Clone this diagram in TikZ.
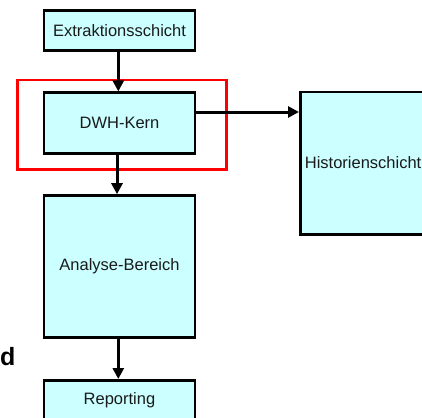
\documentclass[tikz,border=0pt]{standalone}
\usepackage{fontspec}
\setmainfont{Liberation Sans}
\usetikzlibrary{arrows.meta}
\definecolor{boxfill}{HTML}{CCFFFF}
\definecolor{boxtext}{HTML}{1A1A1A}
\begin{document}
\begin{tikzpicture}[x=1pt,y=-1pt,
  layer/.style={draw=black, line width=2.6pt, fill=boxfill, rectangle,
    inner sep=0pt, text=boxtext, font=\fontsize{16.5}{19}\selectfont},
  caption/.style={inner sep=0pt, text=boxtext, font=\fontsize{16.5}{19}\selectfont},
  flow/.style={draw=black, line width=3pt,
    -{Triangle[length=11pt,width=11pt]}},
  focus/.style={draw=red, line width=2.7pt, rectangle, inner sep=0pt}]
  \useasboundingbox (0,0) rectangle (422,417);
  \clip (0,0) rectangle (422,417);

  % layers of the warehouse
  \node[layer, minimum width=151pt, minimum height=40pt] (ext) at (119.5,30.7) {Extraktionsschicht};
  \node[layer, minimum width=151pt, minimum height=61pt] (dwh) at (119.5,123.2) {DWH-Kern};
  \node[layer, minimum width=136pt, minimum height=142.7pt] (hist) at (368.3,163.3) {};
  \node[caption, anchor=east] (histlbl) at (421.5,162.5) {Historienschicht};
  \node[layer, minimum width=151pt, minimum height=141.8pt] (ana) at (119.5,266.4) {Analyse-Bereich};
  \node[layer, minimum width=151pt, minimum height=40pt] (rep) at (119.5,400.3) {Reporting};

  % highlight around the core
  \node[focus, minimum width=209pt, minimum height=89.7pt] (core) at (121.8,124.85) {};

  % partly visible label on the left
  \node[anchor=base east, inner sep=0pt, font=\fontsize{25}{30}\bfseries] (lbl) at (15.5,365) {d};

  % data flow
  \draw[flow] ([xshift=-1.2pt]ext.south) -- ([xshift=-1.2pt]dwh.north);
  \draw[flow] ([xshift=-2.5pt]dwh.south) -- ([xshift=-2.5pt]ana.north);
  \draw[flow] (dwh.east |- 0,112) -- (hist.west |- 0,112);
  \draw[flow] ([xshift=-1.2pt]ana.south) -- ([xshift=-1.2pt]rep.north);
\end{tikzpicture}
\end{document}
